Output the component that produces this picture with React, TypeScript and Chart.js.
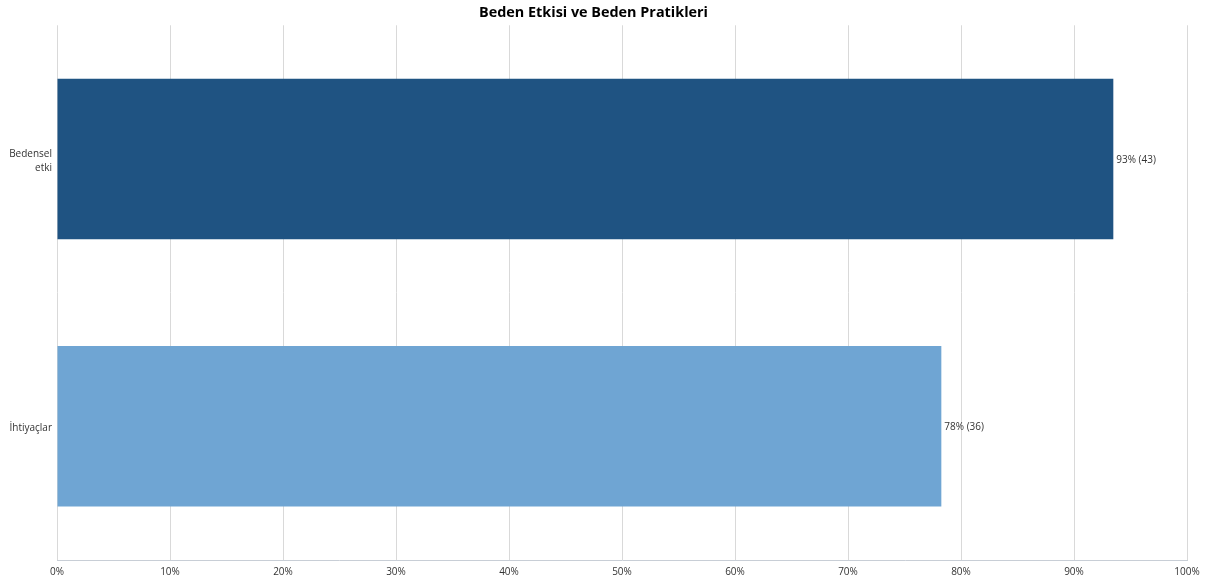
import React, { useEffect, useRef } from "react";
import { Chart, registerables } from "chart.js";

Chart.register(...registerables);

const categories: (string | string[])[] = [["Bedensel", "etki"], "İhtiyaçlar"];
const percentages = [93.48, 78.26];
const counts = [43, 36];
const barColors = ["#1F5382", "#6FA5D3"];
const tickValues = [0, 10, 20, 30, 40, 50, 60, 70, 80, 90, 100];

const FONT = "'Open Sans', 'Noto Sans', sans-serif";

const valueLabels = {
  id: "valueLabels",
  afterDatasetsDraw(chart: any) {
    const ctx = chart.ctx;
    const meta = chart.getDatasetMeta(0);
    ctx.save();
    ctx.font = `10px ${FONT}`;
    ctx.fillStyle = "#333333";
    ctx.textAlign = "left";
    ctx.textBaseline = "middle";
    meta.data.forEach((bar: any, i: number) => {
      const text = `${Math.round(percentages[i])}% (${counts[i]})`;
      ctx.fillText(text, bar.x + 3, bar.y + 1);
    });
    ctx.restore();
  },
};

export default function App() {
  const ref = useRef<HTMLCanvasElement | null>(null);
  useEffect(() => {
    if (!ref.current) return;
    const chart = new Chart(ref.current, {
      type: "bar",
      data: {
        labels: categories as any,
        datasets: [
          {
            data: percentages,
            backgroundColor: barColors,
            borderWidth: 0,
            categoryPercentage: 0.6,
            barPercentage: 1,
          },
        ],
      },
      options: {
        indexAxis: "y",
        animation: false,
        responsive: true,
        maintainAspectRatio: false,
        layout: { padding: { left: 0, right: 24, top: 0, bottom: 0 } },
        plugins: {
          legend: { display: false },
          tooltip: { enabled: false },
          title: {
            display: true,
            text: "Beden Etkisi ve Beden Pratikleri",
            color: "#000000",
            font: { family: FONT, size: 14.4, weight: "bold" },
            padding: { top: 4, bottom: 4 },
          },
        },
        scales: {
          x: {
            min: 0,
            max: 100,
            afterBuildTicks: (scale: any) => {
              scale.ticks = tickValues.map((v) => ({ value: v }));
            },
            afterFit: (scale: any) => {
              scale.height = 23;
            },
            grid: {
              color: "#D9D9D9",
              lineWidth: 1,
              drawTicks: false,
            },
            border: { color: "#C8CED6", width: 1 },
            ticks: {
              padding: 6,
              color: "#333333",
              font: { family: FONT, size: 10 },
              callback: (v: any) => `${v}%`,
              maxRotation: 0,
            },
          },
          y: {
            afterFit: (scale: any) => {
              scale.width = 57;
            },
            grid: { display: false, drawTicks: false },
            border: { display: false },
            ticks: {
              padding: 5,
              labelOffset: 2,
              color: "#333333",
              font: { family: FONT, size: 10, lineHeight: 1.4 },
            },
          },
        },
      },
      plugins: [valueLabels],
    });
    return () => chart.destroy();
  }, []);

  return (
    <div style={{ position: "fixed", left: 0, top: 0, width: 1211, height: 583, background: "#ffffff" }}>
      <canvas ref={ref} />
    </div>
  );
}
